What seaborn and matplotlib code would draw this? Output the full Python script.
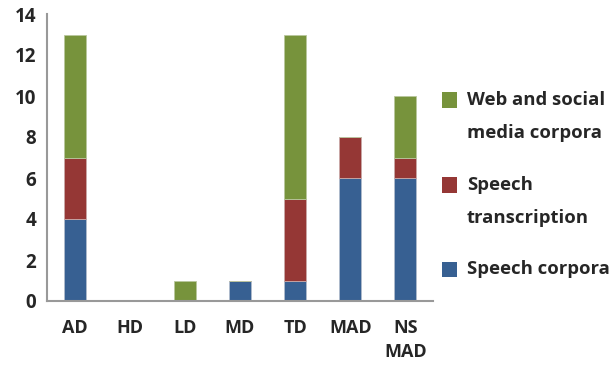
import pandas as pd
import matplotlib.pyplot as plt
import seaborn as sns
from matplotlib.patches import Rectangle

categories = ["AD", "HD", "LD", "MD", "TD", "MAD", "NS\nMAD"]
speech_corpora = [4, 0, 0, 1, 1, 6, 6]
speech_transcription = [3, 0, 0, 0, 4, 2, 1]
web_social = [6, 0, 1, 0, 8, 0, 3]

colors = {
    "Speech corpora": "#376092",
    "Speech transcription": "#953735",
    "Web and social media corpora": "#77933C",
}

sns.set_theme(style="white")
plt.rcParams["font.family"] = ["Open Sans", "DejaVu Sans"]
plt.rcParams["font.weight"] = "bold"

df = pd.DataFrame({
    "category": categories,
    "speech": speech_corpora,
    "trans": speech_transcription,
    "web": web_social,
})
df["trans_bottom"] = df["speech"]
df["web_bottom"] = df["speech"] + df["trans"]

fig = plt.figure(figsize=(6.13, 3.66), dpi=100)
ax = fig.add_axes([47 / 613, 1 - 301 / 366, (433 - 47) / 613, (301 - 14) / 366])

sns.barplot(data=df, x="category", y="speech", color=colors["Speech corpora"],
            width=0.4, saturation=1, ax=ax, edgecolor="#b0bccc", linewidth=0.6)
sns.barplot(data=df, x="category", y="trans", bottom=df["trans_bottom"],
            color=colors["Speech transcription"], width=0.4, saturation=1, ax=ax,
            edgecolor="#c9a9a8", linewidth=0.6)
sns.barplot(data=df, x="category", y="web", bottom=df["web_bottom"],
            color=colors["Web and social media corpora"], width=0.4, saturation=1, ax=ax,
            edgecolor="#b9c79d", linewidth=0.6)

ax.set_xlim(-0.5, len(categories) - 0.5)
ax.set_ylim(0, 14)
ax.set_yticks(range(0, 15, 2))
ax.set_xlabel("")
ax.set_ylabel("")
ax.set_xticks(range(len(categories)))
ax.set_xticklabels(categories, fontsize=13, fontweight="bold", linespacing=1.45)
ax.set_xticks([i - 0.5 for i in range(len(categories) + 1)], minor=True)
ax.tick_params(axis="x", which="major", length=0, pad=13)
ax.tick_params(axis="x", which="minor", length=5, width=1.5, color="#999999", direction="out")
ax.tick_params(axis="y", length=5, width=1.5, color="#999999", direction="out",
               labelsize=13.5, pad=3)
for lab in ax.get_yticklabels():
    lab.set_fontweight("bold")
for lab in ax.get_xticklabels():
    lab.set_verticalalignment("top")

for s in ["top", "right"]:
    ax.spines[s].set_visible(False)
for s in ["left", "bottom"]:
    ax.spines[s].set_color("#999999")
    ax.spines[s].set_linewidth(1.5)

legend_items = [
    ("Web and social media corpora", ["Web and social", "media corpora"], 100),
    ("Speech transcription", ["Speech", "transcription"], 185),
    ("Speech corpora", ["Speech corpora"], 269),
]
for key, lines, yc in legend_items:
    fig.patches.append(Rectangle((442 / 613, 1 - (yc + 7.5) / 366), 15 / 613, 15 / 366,
                                 transform=fig.transFigure, facecolor=colors[key],
                                 edgecolor="none"))
    for j, line in enumerate(lines):
        fig.text(467 / 613, 1 - (yc + j * 33) / 366, line, fontsize=13.3,
                 fontweight="bold", va="center", ha="left")

fig.savefig("out.png", dpi=100)
